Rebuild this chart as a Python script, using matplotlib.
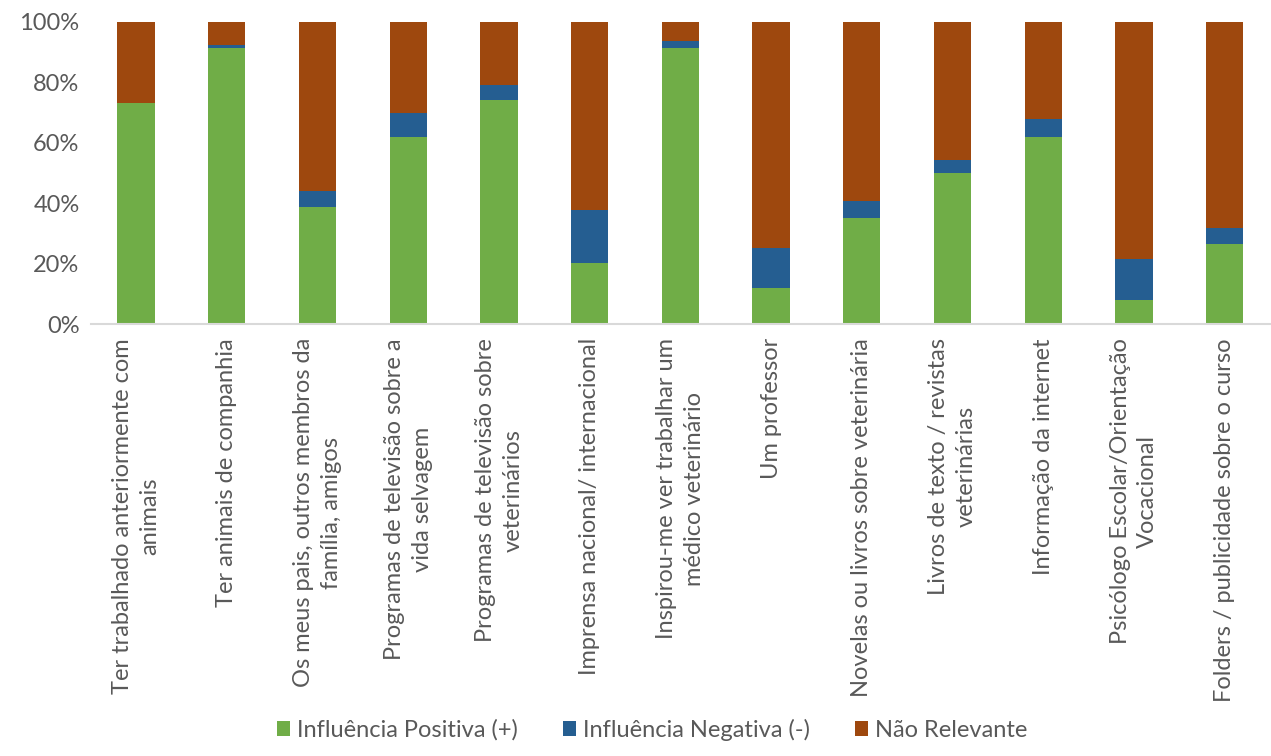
import numpy as np
import matplotlib.pyplot as plt
from matplotlib.ticker import PercentFormatter

categorias = [
    "Ter trabalhado anteriormente com\nanimais",
    "Ter animais de companhia",
    "Os meus pais, outros membros da\nfamília, amigos",
    "Programas de televisão sobre a\nvida selvagem",
    "Programas de televisão sobre\nveterinários",
    "Imprensa nacional/ internacional",
    "Inspirou-me ver trabalhar um\nmédico veterinário",
    "Um professor",
    "Novelas ou livros sobre veterinária",
    "Livros de texto / revistas\nveterinárias",
    "Informação da internet",
    "Psicólogo Escolar/Orientação\nVocacional",
    "Folders / publicidade sobre o curso",
]
positiva = [73.2, 91.5, 38.7, 61.9, 74.3, 20.4, 91.5, 12.0, 35.0, 50.0, 61.9, 8.1, 26.4]
negativa = [0.0, 1.0, 5.4, 7.9, 4.7, 17.3, 2.1, 13.3, 5.9, 4.3, 5.9, 13.4, 5.3]
nao_relevante = [26.8, 7.5, 55.9, 30.2, 21.0, 62.3, 6.4, 74.7, 59.1, 45.7, 32.2, 78.5, 68.3]

plt.rcParams['font.family'] = ['Lato', 'DejaVu Sans']
cinza = '#595959'

fig = plt.figure(figsize=(12.71, 7.56), dpi=100)
ax = fig.add_axes([0.0713, 0.571, 0.928, 0.4])

x = np.arange(len(categorias))
pos = np.array(positiva)
neg = np.array(negativa)
nr = np.array(nao_relevante)
w = 0.41
ax.bar(x, pos, w, color='#70AD47', label='Influência Positiva (+)')
ax.bar(x, neg, w, bottom=pos, color='#255E91', label='Influência Negativa (-)')
ax.bar(x, nr, w, bottom=pos + neg, color='#9E480E', label='Não Relevante')

ax.set_xlim(-0.5, len(categorias) - 0.5)
ax.set_ylim(0, 100)
ax.set_yticks([0, 20, 40, 60, 80, 100])
ax.yaxis.set_major_formatter(PercentFormatter(decimals=0))
ax.set_xticks(x)
ax.set_xticklabels(categorias, rotation=90, ha='center', va='top',
                   multialignment='center', linespacing=1.4)
ax.tick_params(length=0, labelsize=17, colors=cinza)
ax.tick_params(axis='y', pad=8)
ax.tick_params(axis='x', pad=10)
for s in ['top', 'right', 'left']:
    ax.spines[s].set_visible(False)
ax.spines['bottom'].set_color('#D9D9D9')
ax.spines['bottom'].set_linewidth(1.5)

fig.legend(loc='lower center', bbox_to_anchor=(0.513, -0.008), ncol=3, frameon=False,
           fontsize=17, labelcolor=cinza, handlelength=0.55, handleheight=0.55,
           handletextpad=0.3, columnspacing=1.9)

fig.savefig('out.png', dpi=100)
